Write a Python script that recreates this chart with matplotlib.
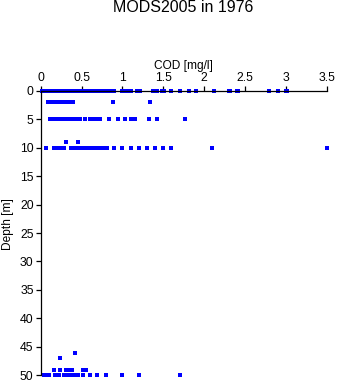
import matplotlib
matplotlib.use("Agg")
import matplotlib.pyplot as plt

plt.rcParams['font.family'] = ['Liberation Sans', 'DejaVu Sans']

# COD values [mg/l] observed at each depth [m]
cod_0m = [0.02, 0.04, 0.05, 0.07, 0.08, 0.1, 0.12, 0.14, 0.15, 0.17, 0.19, 0.2,
          0.22, 0.24, 0.25, 0.27, 0.29, 0.3, 0.32, 0.34, 0.35, 0.37, 0.39,
          0.43, 0.45, 0.47, 0.5, 0.54, 0.56, 0.58, 0.6, 0.62, 0.64, 0.66, 0.68,
          0.7, 0.74, 0.76, 0.78, 0.8, 0.82, 0.84, 0.86, 0.88, 0.9, 1.0, 1.02,
          1.05, 1.07, 1.1, 1.18, 1.22, 1.38, 1.42, 1.48, 1.51, 1.6, 1.71, 1.82,
          1.9, 2.12, 2.3, 2.32, 2.4, 2.42, 2.8, 2.9, 3.0, 3.02]
cod_2m = [0.09, 0.11, 0.13, 0.15, 0.17, 0.19, 0.21, 0.23, 0.25, 0.27, 0.29,
          0.31, 0.33, 0.36, 0.39, 0.88, 1.34]
cod_5m = [0.11, 0.13, 0.15, 0.17, 0.19, 0.21, 0.23, 0.25, 0.27, 0.29, 0.31,
          0.33, 0.35, 0.37, 0.39, 0.41, 0.43, 0.45, 0.48, 0.54, 0.6, 0.62,
          0.64, 0.66, 0.68, 0.71, 0.73, 0.83, 0.94, 1.03, 1.11, 1.16, 1.32,
          1.42, 1.76]
cod_9m = [0.31, 0.46]
cod_10m = [0.07, 0.16, 0.18, 0.2, 0.22, 0.24, 0.26, 0.28, 0.37, 0.39, 0.41,
           0.43, 0.45, 0.47, 0.49, 0.51, 0.53, 0.55, 0.57, 0.59, 0.61, 0.63,
           0.65, 0.67, 0.69, 0.71, 0.73, 0.77, 0.81, 0.9, 1.0, 1.1, 1.2, 1.3,
           1.4, 1.5, 1.6, 2.1, 3.5]
cod_46m = [0.42]
cod_47m = [0.24]
cod_49m = [0.16, 0.24, 0.31, 0.33, 0.38, 0.52, 0.54, 0.56]
cod_50m = [0.04, 0.06, 0.08, 0.1, 0.18, 0.2, 0.22, 0.29, 0.31, 0.33, 0.35,
           0.37, 0.4, 0.42, 0.44, 0.46, 0.52, 0.6, 0.69, 0.8, 1.0, 1.2, 1.7]

depths = [0, 2, 5, 9, 10, 46, 47, 49, 50]
cod_by_depth = [cod_0m, cod_2m, cod_5m, cod_9m, cod_10m,
                cod_46m, cod_47m, cod_49m, cod_50m]

fig = plt.figure(figsize=(3.37, 3.84), dpi=100)
ax = fig.add_axes([40.7 / 337, 1 - 375.3 / 384, 286.0 / 337, 284.6 / 384])

for d, vals in zip(depths, cod_by_depth):
    ax.plot(vals, [d] * len(vals), linestyle='none', marker='s',
            markersize=2.3, markeredgewidth=0, color='#0000ff', clip_on=False)

ax.set_xlim(0, 3.5)
ax.set_ylim(50, 0)
ax.set_xticks([0, 0.5, 1, 1.5, 2, 2.5, 3, 3.5])
ax.set_xticklabels(['0', '0.5', '1', '1.5', '2', '2.5', '3', '3.5'])
ax.set_yticks(range(0, 51, 5))

ax.xaxis.tick_top()
ax.xaxis.set_label_position('top')
ax.spines['right'].set_visible(False)
ax.spines['bottom'].set_visible(False)
for side in ('left', 'top'):
    ax.spines[side].set_linewidth(0.9)
ax.tick_params(axis='both', labelsize=8.8, length=3.6, width=0.9, pad=1.5)

ax.set_xlabel('COD [mg/l]', fontsize=8.6, labelpad=2)
ax.set_ylabel('Depth [m]', fontsize=8.6)
ax.yaxis.set_label_coords(-0.093, 0.53)
fig.text(183.5 / 337, 1 - 8 / 384, 'MODS2005 in 1976', ha='center', va='center', fontsize=11.5)

fig.savefig('out.png', dpi=100)
